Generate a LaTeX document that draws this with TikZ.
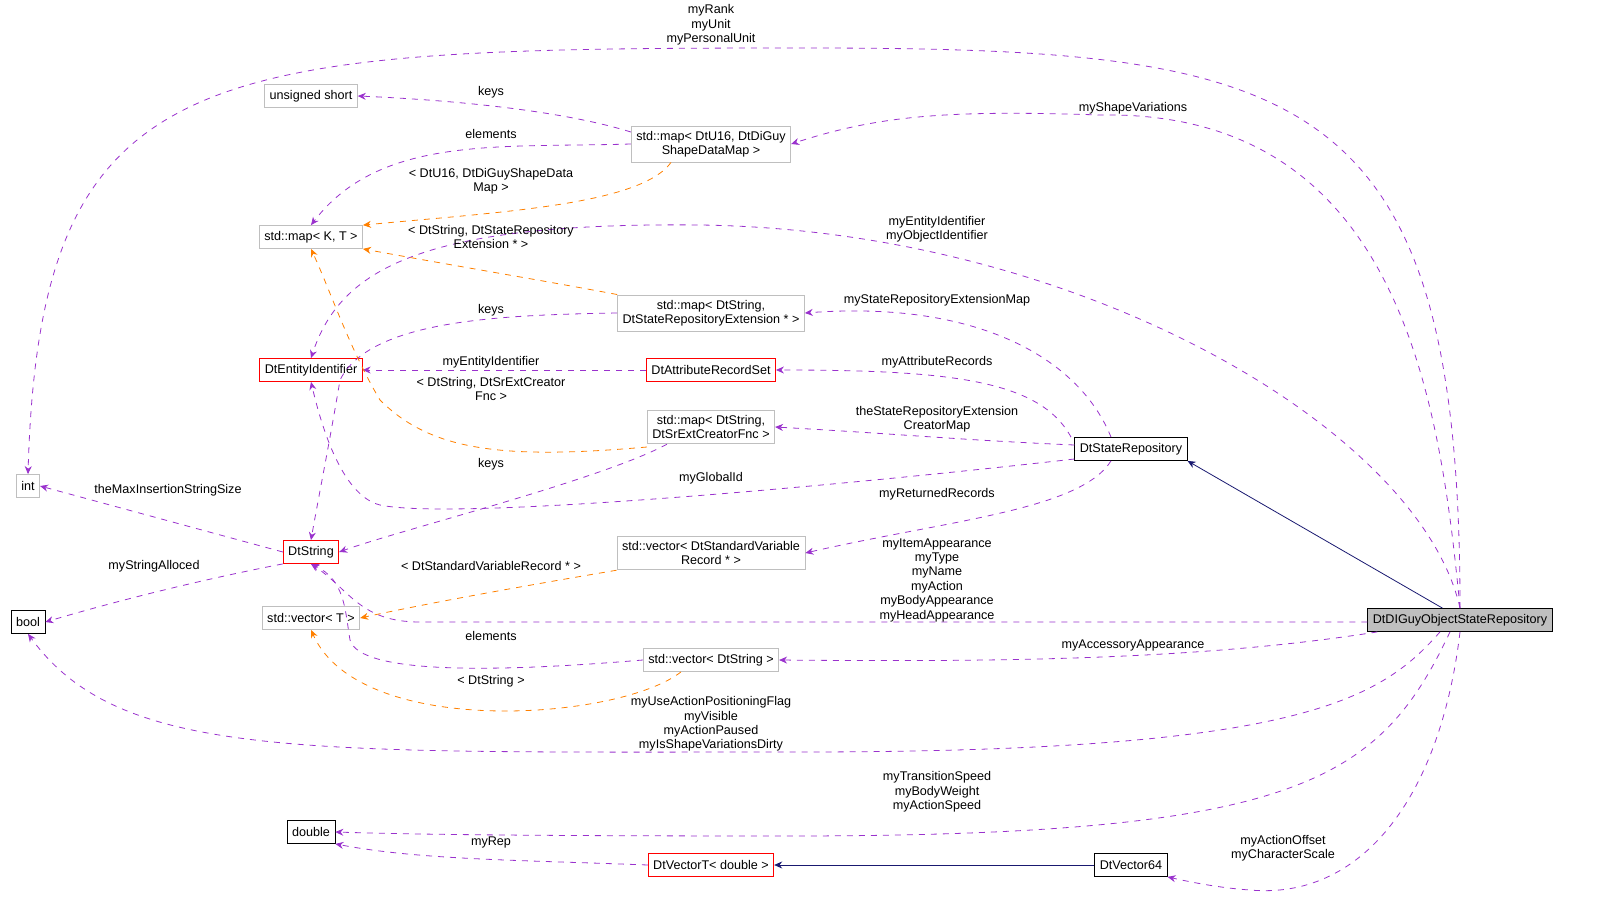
\documentclass[tikz,border=0pt]{standalone}
\usepackage{fontspec}
\setmainfont{Liberation Sans}
\usetikzlibrary{arrows.meta}
\definecolor{edgepurple}{HTML}{9A32CD}
\definecolor{boxgray}{HTML}{BFBFBF}
\definecolor{inhblue}{HTML}{191970}
\tikzset{
  cls/.style={draw, inner sep=2.5pt, minimum height=11.5pt, font=\fontsize{6.3}{7.2}\selectfont, align=center, fill=white},
  ext/.style={cls, draw=boxgray},
  red/.style={cls, draw=red},
  blk/.style={cls, draw=black},
  use/.style={edgepurple, dashed, -{Stealth[length=4pt,width=3.5pt]}},
  tpl/.style={orange, dashed, -{Stealth[length=4pt,width=3.5pt]}},
  inh/.style={inhblue, -{Stealth[length=4pt,width=3.5pt]}},
  lbl/.style={font=\fontsize{6.3}{7.2}\selectfont, align=center, inner sep=0pt}
}
\begin{document}
\begin{tikzpicture}[x=0.5pt,y=-0.5pt]
% classes
\node[ext] (Int) at (28,486) {int};
\node[blk] (Bool) at (28,622) {bool};
\node[blk] (Double) at (311,832) {double};
\node[ext] (UShort) at (311,96) {unsigned short};
\node[ext] (MapKT) at (311,237) {std::map\textless{} K, T \textgreater};
\node[red] (EntId) at (311,370) {DtEntityIdentifier};
\node[red] (Str) at (311,552) {DtString};
\node[ext] (VecT) at (311,618) {std::vector\textless{} T \textgreater};
\node[ext] (MapShape) at (711,144) {std::map\textless{} DtU16, DtDiGuy\\ShapeDataMap \textgreater};
\node[ext] (MapExt) at (711,313) {std::map\textless{} DtString,\\ DtStateRepositoryExtension * \textgreater};
\node[red] (AttrSet) at (711,370) {DtAttributeRecordSet};
\node[ext] (MapFnc) at (711,427) {std::map\textless{} DtString,\\ DtSrExtCreatorFnc \textgreater};
\node[ext] (VecRec) at (711,553) {std::vector\textless{} DtStandardVariable\\Record * \textgreater};
\node[ext] (VecStr) at (711,660) {std::vector\textless{} DtString \textgreater};
\node[red] (VecTD) at (711,865) {DtVectorT\textless{} double \textgreater};
\node[blk] (StateRep) at (1131,449) {DtStateRepository};
\node[blk] (Vec64) at (1131,865) {DtVector64};
\node[blk, fill=boxgray] (Guy) at (1460,620) {DtDIGuyObjectStateRepository};
% inheritance
\draw[inh] (Guy.north west) ++(75,0) -- (StateRep.south east);
\draw[inh] (Vec64) -- (VecTD);
% members of the main class
\draw[use] (Guy.north) .. controls (1460,80) and (1300,48) .. (800,48) .. controls (200,48) and (40,60) .. (Int.north);
\node[lbl] (LRank) at (711,25) {myRank\\myUnit\\myPersonalUnit};
\draw[use] (Guy.north) .. controls (1440,400) and (1400,110) .. (1100,115) .. controls (950,110) and (880,115) .. (MapShape.east);
\node[lbl] (LShape) at (1133,108) {myShapeVariations};
\draw[use] (Guy.north) .. controls (1420,430) and (1080,230) .. (700,225) .. controls (420,222) and (340,270) .. (EntId.north);
\node[lbl] (LEnt) at (937,229) {myEntityIdentifier\\myObjectIdentifier};
\draw[use] (Guy.west) ++(0,2) -- (420,622) .. controls (360,622) and (350,590) .. (Str.south);
\node[lbl] (LItem) at (937,580) {myItemAppearance\\myType\\myName\\myAction\\myBodyAppearance\\myHeadAppearance};
\draw[use] (Guy.south west) ++(10,0) .. controls (1200,660) and (1000,662) .. (VecStr.east);
\node[lbl] (LAcc) at (1133,645) {myAccessoryAppearance};
\draw[use] (Guy.south) ++(-20,0) .. controls (1380,700) and (1300,752) .. (800,752) .. controls (300,752) and (120,760) .. (Bool.south);
\node[lbl] (LVis) at (711,724) {myUseActionPositioningFlag\\myVisible\\myActionPaused\\myIsShapeVariationsDirty};
\draw[use] (Guy.south) ++(-10,0) .. controls (1380,780) and (1300,835) .. (800,836) .. controls (500,836) and (400,834) .. (Double.east);
\node[lbl] (LSpeed) at (937,792) {myTransitionSpeed\\myBodyWeight\\myActionSpeed};
\draw[use] (Guy.south) .. controls (1440,800) and (1360,900) .. (1250,890) .. controls (1220,888) and (1190,882) .. (Vec64.south east);
\node[lbl] (LOff) at (1283,848) {myActionOffset\\myCharacterScale};
\draw[use] (VecTD.west) .. controls (520,860) and (420,860) .. (Double.south east);
\node[lbl] (LRep) at (491,842) {myRep};
% members of DtStateRepository
\draw[use] (StateRep.north) ++(-20,0) .. controls (1080,360) and (980,300) .. (MapExt.east);
\node[lbl] (LExtMap) at (937,300) {myStateRepositoryExtensionMap};
\draw[use] (StateRep.north) ++(-60,0) .. controls (1040,380) and (950,370) .. (AttrSet.east);
\node[lbl] (LAttr) at (937,362) {myAttributeRecords};
\draw[use] (StateRep.west) ++(0,-4) .. controls (960,440) and (900,434) .. (MapFnc.east);
\node[lbl] (LFnc) at (937,419) {theStateRepositoryExtension\\CreatorMap};
\draw[use] (StateRep.west) ++(0,10) .. controls (800,490) and (450,520) .. (380,505) .. controls (340,495) and (320,420) .. (EntId.south);
\node[lbl] (LGlob) at (711,478) {myGlobalId};
\draw[use] (StateRep.south) ++(-20,0) .. controls (1080,510) and (950,520) .. (VecRec.east);
\node[lbl] (LRet) at (937,494) {myReturnedRecords};
% template containers
\draw[use] (MapShape.west) ++(0,-12) .. controls (560,110) and (450,100) .. (UShort.east);
\node[lbl] (LK1) at (491,92) {keys};
\draw[use] (MapShape.west) .. controls (500,148) and (380,135) .. (MapKT.north);
\node[lbl] (LEl1) at (491,134) {elements};
\draw[tpl] (MapShape.south) ++(-40,0) .. controls (640,205) and (500,212) .. (MapKT.north east);
\node[lbl] (LT1) at (491,181) {\textless{} DtU16, DtDiGuyShapeData\\Map \textgreater};
\draw[tpl] (MapExt.north west) .. controls (540,280) and (450,265) .. (MapKT.south east);
\node[lbl] (LT2) at (491,237) {\textless{} DtString, DtStateRepository\\Extension * \textgreater};
\draw[use] (MapExt.west) .. controls (500,315) and (370,320) .. (340,380) .. controls (330,440) and (318,500) .. (Str.north);
\node[lbl] (LK2) at (491,310) {keys};
\draw[use] (AttrSet.west) -- (EntId.east);
\node[lbl] (LEnt2) at (491,362) {myEntityIdentifier};
\draw[tpl] (MapFnc.west) ++(0,20) .. controls (500,460) and (430,450) .. (380,400) .. controls (350,350) and (330,290) .. (MapKT.south);
\node[lbl] (LT3) at (491,389) {\textless{} DtString, DtSrExtCreator\\Fnc \textgreater};
\draw[use] (MapFnc.south west) ++(20,0) .. controls (600,480) and (400,530) .. (Str.east);
\node[lbl] (LK3) at (491,464) {keys};
\draw[use] (Str.west) -- (Int.east);
\node[lbl] (LMax) at (168,490) {theMaxInsertionStringSize};
\draw[use] (Str.south west) .. controls (200,580) and (120,600) .. (Bool.east);
\node[lbl] (LAlloc) at (154,566) {myStringAlloced};
\draw[tpl] (VecRec.south west) .. controls (500,590) and (420,605) .. (VecT.east);
\node[lbl] (LT4) at (491,566) {\textless{} DtStandardVariableRecord * \textgreater};
\draw[use] (VecStr.west) .. controls (500,672) and (360,675) .. (350,640) .. controls (345,610) and (345,580) .. (Str.south);
\node[lbl] (LEl2) at (491,636) {elements};
\draw[tpl] (VecStr.south) ++(-30,0) .. controls (620,720) and (360,740) .. (VecT.south);
\node[lbl] (LT5) at (491,681) {\textless{} DtString \textgreater};
\pgfresetboundingbox
\useasboundingbox (0,0) rectangle (1611,915);
\end{tikzpicture}
\end{document}
